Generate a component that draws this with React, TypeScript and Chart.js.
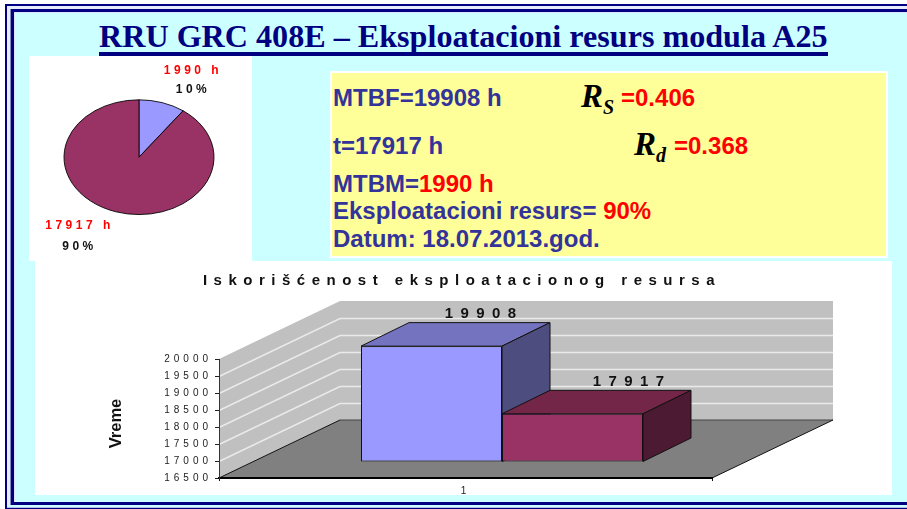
import React, { useEffect, useRef } from "react";
import { Chart, registerables } from "chart.js";

Chart.register(...registerables);

const heading = "RRU GRC 408E – Eksploatacioni resurs modula A25";
const chartTitle = "Iskorišćenost eksploatacionog resursa";
const axisTitle = "Vreme";
const categories = ["1"];
const mtbf = 19908;
const operating = 17917;
const mtbm = 1990;
const barValues = [mtbf, operating];
const pieValues = [mtbm, operating];
const piePercents = [10, 90];
const yMin = 16500;
const yMax = 20000;
const yStep = 500;
const barColors = ["#9999FF", "#993366"];
const barTopColors = ["#7373BF", "#732648"];
const barSideColors = ["#4D4D80", "#4D1A33"];

const NAVY = "#000080";
const TEXT_BLUE = "#333399";
const RED = "#FF0000";
const ARIAL = '"Liberation Sans", Arial, sans-serif';
const TIMES = '"Liberation Serif", "Times New Roman", serif';

const WALL_DX = 121;
const WALL_DY = -58;
const FRONT_DX = 36.5;
const FRONT_DY = -16;
const BAR_DX = 48;
const BAR_DY = -23.5;
const LABEL_SHIFT = [1, 8];

function poly(ctx: any, pts: number[][], fill: string, stroke?: string, lw = 1) {
  ctx.beginPath();
  pts.forEach((p, i) => (i ? ctx.lineTo(p[0], p[1]) : ctx.moveTo(p[0], p[1])));
  ctx.closePath();
  ctx.fillStyle = fill;
  ctx.fill();
  if (stroke) {
    ctx.strokeStyle = stroke;
    ctx.lineWidth = lw;
    ctx.stroke();
  }
}

const bar3dPlugin = {
  id: "bar3d",
  beforeDraw(chart: any) {
    const ctx = chart.ctx;
    const a = chart.chartArea;
    const y = chart.scales.y;
    if (chart.titleBlock && !chart.titleBlock.__spaced) {
      const tb = chart.titleBlock;
      const d = tb.draw;
      tb.draw = function () {
        const prev = ctx.letterSpacing;
        ctx.letterSpacing = "6.5px";
        ctx.save();
        ctx.translate(52.5, 0);
        d.call(tb);
        ctx.restore();
        ctx.letterSpacing = prev;
      };
      tb.__spaced = true;
      const dt = y.drawTitle;
      y.drawTitle = function (area: any) {
        const prev = ctx.letterSpacing;
        ctx.letterSpacing = "0px";
        ctx.save();
        ctx.translate(0, 5);
        dt.call(y, area);
        ctx.restore();
        ctx.letterSpacing = prev;
      };
    }
    ctx.letterSpacing = "4px";
    ctx.save();
    const bl = [a.left, a.bottom];
    const tl = [a.left, a.top];
    const br = [a.right, a.bottom];
    const back = (p: number[]) => [p[0] + WALL_DX, p[1] + WALL_DY];
    poly(ctx, [tl, back(tl), back(bl), bl], "#C0C0C0");
    poly(ctx, [back(tl), [a.right + WALL_DX, a.top + WALL_DY], back(br), back(bl)], "#C0C0C0");
    poly(ctx, [bl, back(bl), back(br), br], "#808080");
    ctx.strokeStyle = "#EAEAEA";
    ctx.lineWidth = 1.4;
    for (const t of y.ticks) {
      if (t.value === yMin || t.value === yMax) continue;
      const py = Math.round(y.getPixelForValue(t.value)) + 0.5;
      ctx.beginPath();
      ctx.moveTo(a.left, py);
      ctx.lineTo(a.left + WALL_DX, py + WALL_DY);
      ctx.lineTo(a.right + WALL_DX, py + WALL_DY);
      ctx.stroke();
    }
    ctx.lineWidth = 1;
    ctx.strokeStyle = "#444";
    ctx.beginPath();
    ctx.moveTo(bl[0] + WALL_DX, bl[1] + WALL_DY);
    ctx.lineTo(br[0] + WALL_DX, br[1] + WALL_DY);
    ctx.stroke();
    ctx.strokeStyle = "#111";
    ctx.beginPath();
    ctx.moveTo(bl[0], bl[1]);
    ctx.lineTo(bl[0] + WALL_DX, bl[1] + WALL_DY);
    ctx.moveTo(br[0], br[1]);
    ctx.lineTo(br[0] + WALL_DX, br[1] + WALL_DY);
    ctx.stroke();
    ctx.restore();
  },
  beforeDatasetsDraw(chart: any) {
    const ctx = chart.ctx;
    ctx.save();
    ctx.translate(FRONT_DX, FRONT_DY);
    barValues.forEach((_, i) => {
      const el = chart.getDatasetMeta(i).data[0];
      const l = el.x - el.width / 2;
      const r = el.x + el.width / 2;
      const t = el.y;
      const b = el.base;
      poly(ctx, [[l, t], [l + BAR_DX, t + BAR_DY], [r + BAR_DX, t + BAR_DY], [r, t]], barTopColors[i], "#111");
      poly(ctx, [[r, t], [r + BAR_DX, t + BAR_DY], [r + BAR_DX, b + BAR_DY], [r, b]], barSideColors[i], "#111");
    });
  },
  afterDatasetsDraw(chart: any) {
    chart.ctx.restore();
  },
  afterDraw(chart: any) {
    const ctx = chart.ctx;
    ctx.save();
    ctx.font = `bold 15px ${ARIAL}`;
    ctx.letterSpacing = "7.4px";
    ctx.fillStyle = "#111";
    ctx.textAlign = "center";
    ctx.textBaseline = "middle";
    barValues.forEach((v, i) => {
      const el = chart.getDatasetMeta(i).data[0];
      ctx.fillText(String(v), el.x + FRONT_DX + BAR_DX + LABEL_SHIFT[i] + 3.7, el.y + FRONT_DY + BAR_DY - 8.5);
    });
    ctx.restore();
  },
};

const PIE_SQUASH = 0.765;
const pieLabelPos = [
  [164, 14.5, 19.5],
  [50.5, 169.5, 21],
];

const ellipsePlugin = {
  id: "ellipse",
  beforeDatasetsDraw(chart: any) {
    const ctx = chart.ctx;
    const el = chart.getDatasetMeta(0).data[0];
    ctx.save();
    ctx.translate(el.x, el.y);
    ctx.scale(1, PIE_SQUASH);
    ctx.translate(-el.x, -el.y);
  },
  afterDatasetsDraw(chart: any) {
    chart.ctx.restore();
  },
  afterDraw(chart: any) {
    const ctx = chart.ctx;
    ctx.save();
    ctx.font = `bold 12px ${ARIAL}`;
    ctx.letterSpacing = "3.5px";
    ctx.textAlign = "center";
    ctx.textBaseline = "middle";
    pieValues.forEach((v, i) => {
      const [x, y, gap] = pieLabelPos[i];
      ctx.fillStyle = RED;
      ctx.fillText(`${v} h`, x, y);
      ctx.fillStyle = "#111";
      ctx.fillText(`${piePercents[i]}%`, x, y + gap);
    });
    ctx.restore();
  },
};

function T({ x, y, color = TEXT_BLUE, size = 24, children }: any) {
  return (
    <div
      style={{
        position: "absolute",
        left: x,
        top: y - 16,
        height: 32,
        lineHeight: "32px",
        color,
        fontFamily: ARIAL,
        fontWeight: 700,
        fontSize: size,
        whiteSpace: "pre",
      }}
    >
      {children}
    </div>
  );
}

function R({ x, y, sub }: any) {
  return (
    <div style={{ position: "absolute", left: x, top: y - 22, height: 44, lineHeight: "44px", fontFamily: TIMES, fontStyle: "italic", fontWeight: 700, color: "#000", fontSize: 33, whiteSpace: "pre" }}>
      R<span style={{ fontSize: 20, position: "relative", top: 7 }}>{sub}</span>
    </div>
  );
}

function box(left: number, top: number, width: number, height: number, background: string) {
  return <div style={{ position: "absolute", left, top, width, height, background }} />;
}

export default function App() {
  const barRef = useRef<HTMLCanvasElement>(null);
  const pieRef = useRef<HTMLCanvasElement>(null);

  useEffect(() => {
    document.body.style.margin = "0";
    document.body.style.overflow = "hidden";
    const bar = new Chart(barRef.current as any, {
      type: "bar",
      data: {
        labels: categories,
        datasets: barValues.map((v, i) => ({
          label: `Serija ${i + 1}`,
          data: [v],
          base: yMin,
          backgroundColor: barColors[i],
          borderColor: "#111",
          borderWidth: 1,
          borderSkipped: false,
          categoryPercentage: 0.572,
          barPercentage: 1,
          clip: false as any,
        })),
      },
      options: {
        responsive: false,
        animation: false,
        layout: { padding: { left: 72, right: 180, top: 0, bottom: 0 } },
        plugins: {
          legend: { display: false },
          tooltip: { enabled: false },
          title: {
            display: true,
            text: chartTitle,
            color: "#111",
            font: { family: ARIAL, size: 15, weight: "bold", lineHeight: 1.2 },
            padding: { top: 11, bottom: 69 },
          },
        },
        scales: {
          x: {
            grid: { drawOnChartArea: false, tickLength: 3, color: "#111" },
            border: { color: "#000", width: 2 },
            ticks: { color: "#222", padding: 4, font: { family: ARIAL, size: 10 } },
            afterFit: (s: any) => { s.height = 17; },
          },
          y: {
            min: yMin,
            max: yMax,
            grid: { drawOnChartArea: false, tickLength: 4, color: "#222" },
            border: { color: "#333", width: 1 },
            ticks: { stepSize: yStep, color: "#222", padding: 3, font: { family: ARIAL, size: 10 }, callback: (v: any) => String(v) },
            title: { display: true, text: axisTitle, color: "#111", padding: { top: 0, bottom: 0 }, font: { family: ARIAL, size: 16.5, weight: "bold" } },
            afterFit: (s: any) => { s.width = 112; },
          },
        },
      },
      plugins: [bar3dPlugin],
    } as any);
    const pie = new Chart(pieRef.current as any, {
      type: "pie",
      data: {
        labels: pieValues.map((v) => `${v} h`),
        datasets: [{ data: pieValues, backgroundColor: barColors, borderColor: "#000", borderWidth: 1 }],
      },
      options: {
        responsive: false,
        animation: false,
        layout: { padding: { left: 34.5, right: 37.5, top: 25.7, bottom: 27.3 } },
        plugins: { legend: { display: false }, tooltip: { enabled: false } },
      },
      plugins: [ellipsePlugin],
    } as any);
    return () => {
      bar.destroy();
      pie.destroy();
    };
  }, []);

  return (
    <div style={{ position: "absolute", left: 0, top: 0, width: 907, height: 509, overflow: "hidden", background: "#fff" }}>
      {box(5, 4, 902, 505, NAVY)}
      {box(7, 6, 900, 503, "#E8ECFF")}
      {box(10, 9, 897, 498, "#8088C0")}
      {box(11, 9, 896, 496, NAVY)}
      {box(14, 12, 893, 490, "#DDE4FF")}
      {box(15, 13, 892, 489, "#CCFFFF")}
      {box(11, 502, 896, 3, NAVY)}
      {box(7, 505, 900, 2, "#CCFFFF")}
      {box(7, 507, 900, 1, "#B8BCE8")}
      {box(5, 508, 902, 1, NAVY)}

      <div
        style={{
          position: "absolute",
          left: 99,
          top: 18,
          width: 729,
          height: 34,
          lineHeight: "37px",
          fontFamily: TIMES,
          fontWeight: 700,
          fontSize: 32.13,
          color: NAVY,
          whiteSpace: "pre",
          borderBottom: `4px solid ${NAVY}`,
          boxSizing: "content-box",
        }}
      >
        {heading}
      </div>

      {box(29, 56, 223, 205, "#fff")}
      <canvas ref={pieRef} width={223} height={204} style={{ position: "absolute", left: 29, top: 56 }} />

      <div style={{ position: "absolute", left: 330, top: 71, width: 554, height: 183, background: "#FFFF99", border: "2px solid #fff" }} />
      <T x={333} y={98}>MTBF=19908 h</T>
      <R x={581} y={96} sub="S" />
      <T x={621} y={98} color={RED}>=0.406</T>
      <T x={333} y={146}>t=17917 h</T>
      <R x={634} y={144} sub="d" />
      <T x={674} y={146} color={RED}>=0.368</T>
      <T x={333} y={184}>MTBM=<span style={{ color: RED }}>1990 h</span></T>
      <T x={333} y={211}>Eksploatacioni resurs= <span style={{ color: RED }}>90%</span></T>
      <T x={333} y={239}>Datum: 18.07.2013.god.</T>

      {box(35, 261, 857, 234, "#fff")}
      <canvas ref={barRef} width={857} height={234} style={{ position: "absolute", left: 35, top: 261 }} />
    </div>
  );
}
